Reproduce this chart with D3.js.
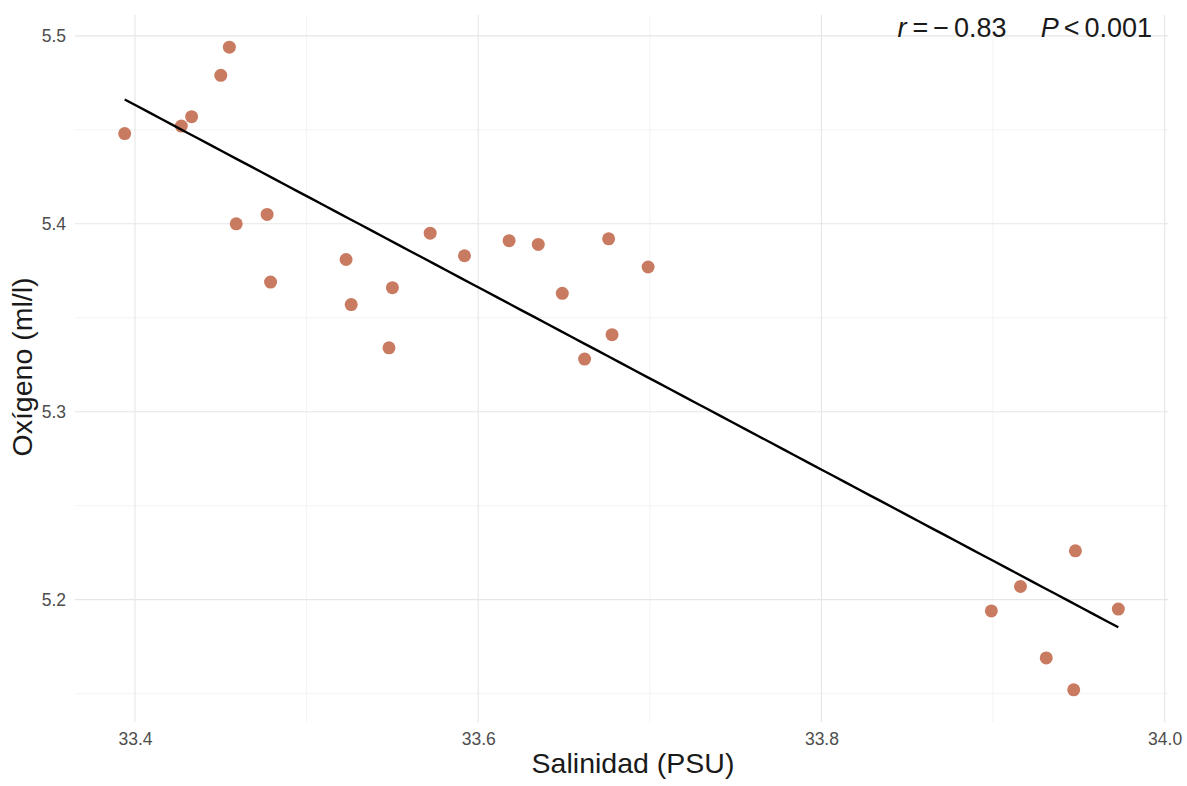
<!DOCTYPE html>
<html>
<head>
<meta charset="utf-8">
<script src="https://cdn.jsdelivr.net/npm/d3@7"></script>
<style>
  body { margin: 0; background: #fff; }
  text { font-family: 'Liberation Sans', Arial, sans-serif; }
</style>
</head>
<body>
<div id="view"></div>
<script>
'use strict';

// salinity (PSU) and oxygen (ml/l)
const salinidad = [
  33.394, 33.427, 33.433, 33.450, 33.455, 33.459, 33.477, 33.479,
  33.523, 33.526, 33.550, 33.548, 33.572, 33.592, 33.618, 33.635,
  33.649, 33.662, 33.676, 33.678, 33.699,
  33.899, 33.916, 33.948, 33.973, 33.931, 33.947
];
const oxigeno = [
  5.448, 5.452, 5.457, 5.479, 5.494, 5.400, 5.405, 5.369,
  5.381, 5.357, 5.366, 5.334, 5.395, 5.383, 5.391, 5.389,
  5.363, 5.328, 5.392, 5.341, 5.377,
  5.194, 5.207, 5.226, 5.195, 5.169, 5.152
];

const xTicks = [33.4, 33.6, 33.8, 34.0];
const xMinor = [33.5, 33.7, 33.9];
const yTicks = [5.2, 5.3, 5.4, 5.5];
const yMinor = [5.15, 5.25, 5.35, 5.45];

const size = { w: 1187, h: 786 };
const panel = { left: 75, right: 1168, top: 15, bottom: 722 };

const presentation = {
  fill_point: '#c97b61',
  stroke_line: '#000000',
  stroke_major: '#e6e6e6',
  stroke_minor: '#f0f0f0',
  fill_tick: '#4d4d4d',
  fill_title: '#1a1a1a'
};

const points = salinidad.map((s, i) => ({ x: s, y: oxigeno[i] }));

// ggplot-like 5% expansion
function expand(ext) {
  const pad = (ext[1] - ext[0]) * 0.05;
  return [ext[0] - pad, ext[1] + pad];
}

const x = d3.scaleLinear()
  .domain(expand(d3.extent(salinidad)))
  .range([panel.left, panel.right]);

const y = d3.scaleLinear()
  .domain(expand(d3.extent(oxigeno)))
  .range([panel.bottom, panel.top]);

const svg = d3.select('#view').append('svg')
  .attr('width', size.w)
  .attr('height', size.h);

// grid
const gGrid = svg.append('g');
gGrid.selectAll('.vminor').data(xMinor).enter().append('line')
  .attr('x1', d => x(d)).attr('x2', d => x(d))
  .attr('y1', panel.top).attr('y2', panel.bottom)
  .attr('stroke', presentation.stroke_minor).attr('stroke-width', 0.8);
gGrid.selectAll('.hminor').data(yMinor).enter().append('line')
  .attr('x1', panel.left).attr('x2', panel.right)
  .attr('y1', d => y(d)).attr('y2', d => y(d))
  .attr('stroke', presentation.stroke_minor).attr('stroke-width', 0.8);
gGrid.selectAll('.vmajor').data(xTicks).enter().append('line')
  .attr('x1', d => x(d)).attr('x2', d => x(d))
  .attr('y1', panel.top).attr('y2', panel.bottom)
  .attr('stroke', presentation.stroke_major).attr('stroke-width', 1.1);
gGrid.selectAll('.hmajor').data(yTicks).enter().append('line')
  .attr('x1', panel.left).attr('x2', panel.right)
  .attr('y1', d => y(d)).attr('y2', d => y(d))
  .attr('stroke', presentation.stroke_major).attr('stroke-width', 1.1);

// axes (no domain line, no ticks)
const xAxis = svg.append('g')
  .attr('transform', `translate(0,${panel.bottom})`)
  .call(d3.axisBottom(x).tickValues(xTicks).tickFormat(d3.format('.1f')).tickSize(0).tickPadding(11));
const yAxis = svg.append('g')
  .attr('transform', `translate(${panel.left},0)`)
  .call(d3.axisLeft(y).tickValues(yTicks).tickFormat(d3.format('.1f')).tickSize(0).tickPadding(9));
[xAxis, yAxis].forEach(g => {
  g.select('.domain').remove();
  g.selectAll('text')
    .attr('fill', presentation.fill_tick)
    .style('font-size', '17.5px')
    .style('font-family', "'Liberation Sans', Arial, sans-serif");
});

// points
svg.append('g').selectAll('circle')
  .data(points).enter().append('circle')
  .attr('cx', d => x(d.x))
  .attr('cy', d => y(d.y))
  .attr('r', 6.5)
  .attr('fill', presentation.fill_point);

// least-squares fit line
const mx = d3.mean(salinidad), my = d3.mean(oxigeno);
const slope = d3.sum(points, d => (d.x - mx) * (d.y - my)) / d3.sum(points, d => (d.x - mx) ** 2);
const intercept = my - slope * mx;
const [xmin, xmax] = d3.extent(salinidad);
const fit = d3.range(0, 81).map(i => {
  const xv = xmin + (xmax - xmin) * i / 80;
  return { x: xv, y: intercept + slope * xv };
});
svg.append('path')
  .datum(fit)
  .attr('d', d3.line().x(d => x(d.x)).y(d => y(d.y)))
  .attr('fill', 'none')
  .attr('stroke', presentation.stroke_line)
  .attr('stroke-width', 2.4);

// axis titles
svg.append('text')
  .attr('x', 633)
  .attr('y', 773)
  .attr('text-anchor', 'middle')
  .attr('fill', presentation.fill_title)
  .style('font-size', '28.5px')
  .text('Salinidad (PSU)');

svg.append('text')
  .attr('transform', `translate(32,367) rotate(-90)`)
  .attr('text-anchor', 'middle')
  .attr('fill', presentation.fill_title)
  .style('font-size', '28.5px')
  .text('Oxígeno (ml/l)');

// annotation
const ann = svg.append('text')
  .attr('x', 1152)
  .attr('y', 37)
  .attr('text-anchor', 'end')
  .attr('fill', presentation.fill_title)
  .style('font-size', '27px');
ann.append('tspan').style('font-style', 'italic').text('r');
ann.append('tspan').attr('dx', 6).text('=');
ann.append('tspan').attr('dx', 5).text('\u2212');
ann.append('tspan').attr('dx', 5).text('0.83');
ann.append('tspan').attr('dx', 34).style('font-style', 'italic').text('P');
ann.append('tspan').attr('dx', 5).text('<');
ann.append('tspan').attr('dx', 5).text('0.001');
</script>
</body>
</html>
